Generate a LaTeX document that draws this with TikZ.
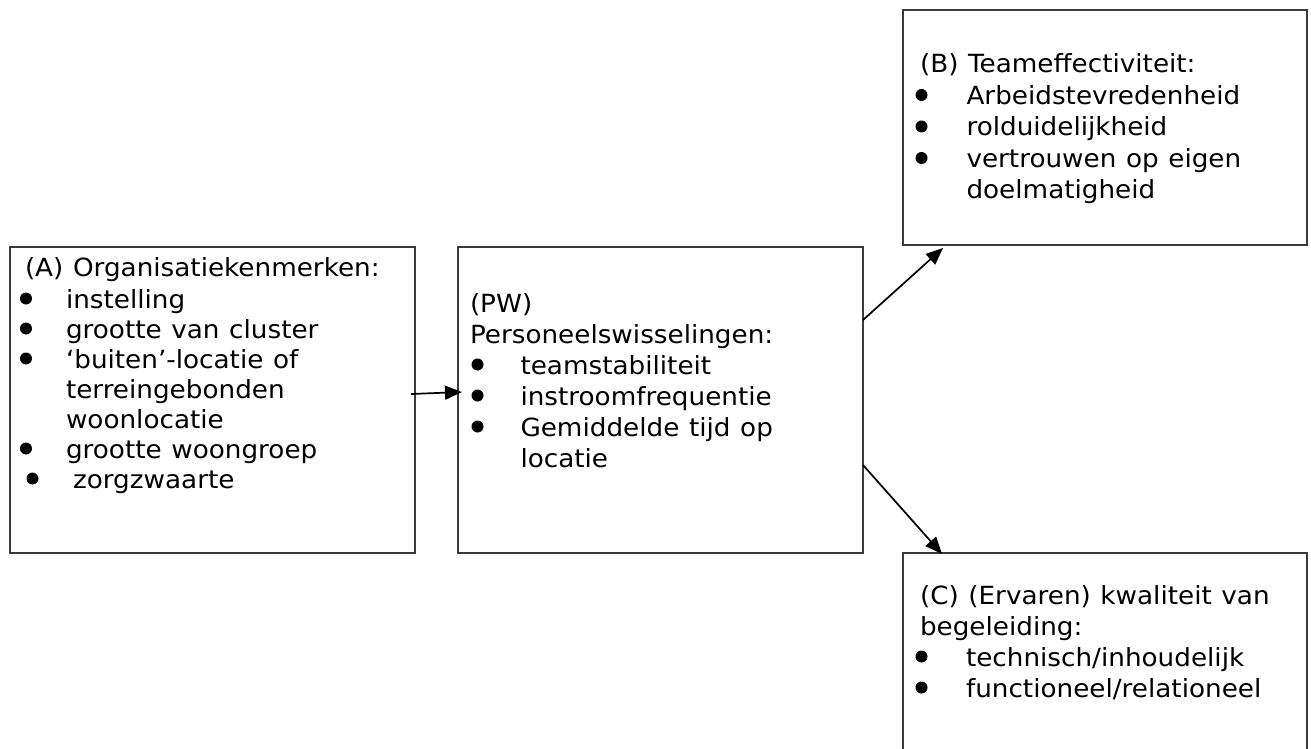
\documentclass[tikz,border=0pt]{standalone}
\usepackage{fontspec}
\setmainfont{DejaVu Sans}[FakeStretch=1.05,WordSpace=1.15]
\usetikzlibrary{arrows.meta}
\definecolor{boxline}{HTML}{3A3A3A}
% bullet: #1 = shift of bullet from text origin, #2 = width from bullet left to item text
\newcommand\bul[2]{\hspace*{#1}\makebox[#2][l]{\tikz[baseline=0pt]\fill[black] (6pt,9.5pt) circle[radius=6pt];}}
\tikzset{
  box/.style={draw=boxline, line width=1.8pt, fill=none, inner sep=0pt, outer sep=0pt, anchor=north west},
  txt/.style={inner sep=0pt, outer sep=0pt, anchor=base west, text=black},
  conn/.style={draw=black, line width=1.7pt, -{Triangle[length=17pt,width=14pt]}}
}
\begin{document}
\begin{tikzpicture}[x=1pt,y=-1pt]
\useasboundingbox (0,0) rectangle (1311,749);
\clip (0,0) rectangle (1311,749);

% boxes
\node[box, minimum width=405pt, minimum height=306pt] (A) at (10,247) {};
\node[box, minimum width=405pt, minimum height=306pt] (PW) at (458,247) {};
\node[box, minimum width=404pt, minimum height=235pt] (B) at (903,10) {};
\node[box, minimum width=404pt, minimum height=260pt] (C) at (903,553) {};

% texts
\node[txt] (At) at (25,276) {\fontsize{25}{30}\selectfont
\begin{tabular}[t]{@{}l@{}}
(A) Organisatiekenmerken:\\[2pt]
\bul{-5pt}{46pt}instelling\\
\bul{-5pt}{46pt}grootte van cluster\\
\bul{-5pt}{46pt}‘buiten’-locatie of\\
\hspace*{41pt}terreingebonden\\
\hspace*{41pt}woonlocatie\\
\bul{-5pt}{46pt}grootte woongroep\\
\bul{1.5pt}{46.5pt}zorgzwaarte
\end{tabular}};

\node[txt] (PWt) at (470,312) {\fontsize{25}{31}\selectfont
\begin{tabular}[t]{@{}l@{}}
(PW)\\
Personeelswisselingen:\\
\bul{1.5pt}{49pt}teamstabiliteit\\
\bul{1.5pt}{49pt}instroomfrequentie\\
\bul{1.5pt}{49pt}Gemiddelde tijd op\\
\hspace*{50.5pt}locatie
\end{tabular}};

\node[txt] (Bt) at (920,73) {\fontsize{25}{31.5}\selectfont
\begin{tabular}[t]{@{}l@{}}
(B) Teameffectiviteit:\\
\bul{-4.5pt}{51pt}Arbeidstevredenheid\\
\bul{-4.5pt}{51pt}rolduidelijkheid\\
\bul{-4.5pt}{51pt}vertrouwen op eigen\\
\hspace*{46.5pt}doelmatigheid
\end{tabular}};

\node[txt] (Ct) at (920,604) {\fontsize{25}{31}\selectfont
\begin{tabular}[t]{@{}l@{}}
(C) (Ervaren) kwaliteit van\\
begeleiding:\\
\bul{-4.5pt}{50.5pt}technisch/inhoudelijk\\
\bul{-4.5pt}{50.5pt}functioneel/relationeel
\end{tabular}};

% connector end points
\coordinate (a1) at ([shift={(-4,147)}]A.north east);
\coordinate (p1) at ([shift={(4,145)}]PW.north west);
\coordinate (p2) at ([shift={(0,73)}]PW.north east);
\coordinate (b1) at ([shift={(40,3)}]B.south west);
\coordinate (p3) at ([shift={(0,-88)}]PW.south east);
\coordinate (c1) at ([shift={(39,1)}]C.north west);

\draw[conn] (a1) -- (p1);
\draw[conn] (p2) -- (b1);
\draw[conn] (p3) -- (c1);
\end{tikzpicture}
\end{document}
